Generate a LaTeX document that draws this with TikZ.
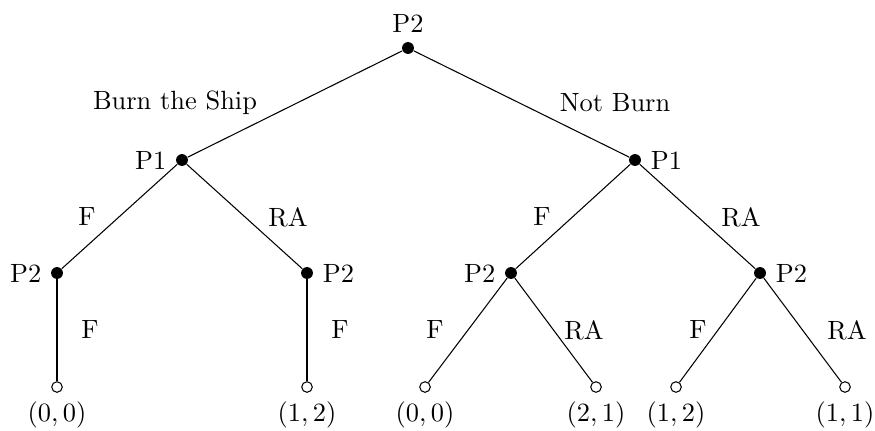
\documentclass[tikz,border=0pt]{standalone}
\begin{document}
\begin{tikzpicture}[x=0.379pt, y=-0.379pt,
	dec/.style={circle, fill, inner sep=0pt, minimum size=4.5pt},
	term/.style={circle, draw, fill=white, inner sep=0pt, minimum size=4pt}]
	\useasboundingbox (0,0) rectangle (875,430);
	% decision nodes
	\node (r) [dec, label=above:P2] at (408,48) {};
	\node (a) [dec, label=left:P1] at (182,160) {};
	\node (b) [dec, label=right:P1] at (635,160) {};
	\node (aa) [dec, label=left:P2] at (57,273) {};
	\node (ab) [dec, label=right:P2] at (307,273) {};
	\node (ba) [dec, label=left:P2] at (511,273) {};
	\node (bb) [dec, label=right:P2] at (760,273) {};
	% payoffs
	\node (t1) [term, label=below:{$(0,0)$}] at (57,387) {};
	\node (t2) [term, label=below:{$(1,2)$}] at (307,387) {};
	\node (t3) [term, label=below:{$(0,0)$}] at (425,387) {};
	\node (t4) [term, label=below:{$(2,1)$}] at (596,387) {};
	\node (t5) [term, label=below:{$(1,2)$}] at (676,387) {};
	\node (t6) [term, label=below:{$(1,1)$}] at (845,387) {};
	
	\draw (r)--(a);
	\draw (r)--(b);
	\draw (a)--(aa);
	\draw (a)--(ab);
	\draw (b)--(ba);
	\draw (b)--(bb);
	\draw (aa)--(t1);
	\draw (ab)--(t2);
	\draw (ba)--(t3);
	\draw (ba)--(t4);
	\draw (bb)--(t5);
	\draw (bb)--(t6);
	
	% actions
	\node (burn) at (175,103) {Burn the Ship};
	\node (notburn) at (615,103) {Not Burn};
	\node (fa) at (87,217) {F};
	\node (raa) at (288,217) {RA};
	\node (fb) at (542,217) {F};
	\node (rab) at (741,217) {RA};
	\node (f1) at (90,330) {F};
	\node (f2) at (340,330) {F};
	\node (f3) at (435,330) {F};
	\node (ra3) at (584,330) {RA};
	\node (f4) at (698,330) {F};
	\node (ra4) at (847,330) {RA};
\end{tikzpicture}
\end{document}
